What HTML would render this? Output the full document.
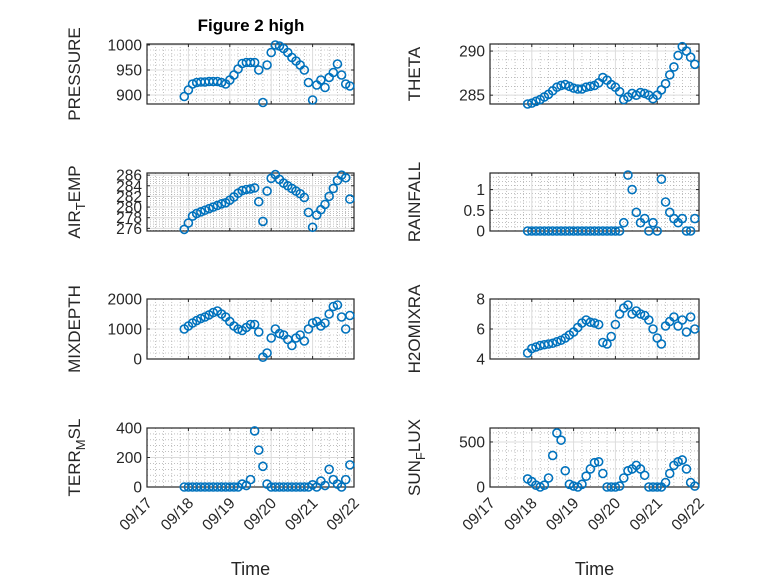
<!DOCTYPE html>
<html><head><meta charset="utf-8"><style>
html,body{margin:0;padding:0;background:#fff;}
svg{display:block;font-family:"Liberation Sans",sans-serif;}
</style></head><body>
<svg id="fig" width="778" height="583" viewBox="0 0 778 583">
<rect width="778" height="583" fill="#fff"/>
<text x="251" y="31" text-anchor="middle" font-size="17" font-weight="bold" fill="#000">Figure 2 high</text>
</svg>
<script>
const times=[0.9,1.0,1.1,1.2,1.3,1.4,1.5,1.6,1.7,1.8,1.9,2.0,2.1,2.2,2.3,2.4,2.5,2.6,2.7,2.8,2.9,3.0,3.1,3.2,3.3,3.4,3.5,3.6,3.7,3.8,3.9,4.0,4.1,4.2,4.3,4.4,4.5,4.6,4.7,4.8,4.9];
const xTickLabels=["09/17","09/18","09/19","09/20","09/21","09/22"];
const pressure=[897,910,922,925,926,926,927,927,927,925,922,930,940,952,963,965,965,965,950,885,960,985,1000,998,993,985,975,968,960,950,925,890,920,930,915,935,945,962,940,922,918];
const airTemp=[275.8,277,278.3,278.8,279.1,279.4,279.7,280,280.3,280.6,280.8,281.3,281.9,282.6,283.1,283.3,283.4,283.6,281,277.3,283,285.4,286.1,285.2,284.5,284,283.5,283,282.5,281.8,279,276.2,278.5,279.5,280.5,282,283.5,285,286,285.5,281.5];
const theta=[284,284.1,284.3,284.5,284.8,285.1,285.5,285.9,286.1,286.2,286,285.8,285.7,285.7,285.9,286,286.1,286.4,287,286.7,286.2,285.9,285.4,284.5,284.8,285.2,285,285.3,285.2,285,284.6,285,285.6,286.3,287.3,288.2,289.5,290.5,290,289.3,288.5];
const rainfall=[0,0,0,0,0,0,0,0,0,0,0,0,0,0,0,0,0,0,0,0,0,0,0,0.2,1.35,1.0,0.45,0.2,0.3,0,0.2,0,1.25,0.7,0.45,0.3,0.2,0.3,0,0,0.3];
const mixDepth=[1000,1100,1200,1280,1350,1400,1470,1550,1600,1500,1400,1250,1100,1000,950,1050,1150,1150,900,60,200,700,1000,850,800,650,450,700,800,600,1000,1200,1250,1100,1200,1500,1750,1800,1400,1000,1450];
const h2o=[4.4,4.7,4.8,4.9,4.95,5.0,5.05,5.15,5.25,5.4,5.6,5.8,6.1,6.4,6.6,6.45,6.4,6.3,5.1,5.0,5.5,6.3,7.0,7.4,7.6,7.0,7.2,7.0,6.9,6.6,6.0,5.4,5.0,6.2,6.5,6.8,6.2,6.6,5.8,6.8,6.0];
const terrMsl=[0,0,0,0,0,0,0,0,0,0,0,0,0,0,20,10,50,380,250,140,20,0,0,0,0,0,0,0,0,0,0,15,0,40,10,120,50,20,0,50,150];
const sunFlux=[90,60,20,0,20,100,350,600,520,180,30,10,0,30,120,200,270,280,150,0,0,0,10,100,180,200,240,200,130,0,0,0,0,50,150,240,280,300,200,50,10];

const panels=[
 {name:"pressure",label:"PRESSURE",sub:null,x0:147,x1:354,y0:44,y1:104,ymin:882,ymax:1002,ticks:[900,950,1000],vals:pressure},
 {name:"theta",label:"THETA",sub:null,x0:490,x1:699,y0:44,y1:104,ymin:284,ymax:290.8,ticks:[285,290],vals:theta},
 {name:"air-temp",label:"AIR",sub:["T","EMP"],x0:147,x1:354,y0:173,y1:231,ymin:275.5,ymax:286.4,ticks:[276,278,280,282,284,286],vals:airTemp},
 {name:"rainfall",label:"RAINFALL",sub:null,x0:490,x1:699,y0:173,y1:231,ymin:0,ymax:1.4,ticks:[0,0.5,1],vals:rainfall},
 {name:"mixdepth",label:"MIXDEPTH",sub:null,x0:147,x1:354,y0:299,y1:359,ymin:0,ymax:2000,ticks:[0,1000,2000],vals:mixDepth},
 {name:"h2omixra",label:"H2OMIXRA",sub:null,x0:490,x1:699,y0:299,y1:359,ymin:4,ymax:8,ticks:[4,6,8],vals:h2o},
 {name:"terr-msl",label:"TERR",sub:["M","SL"],x0:147,x1:354,y0:428,y1:487,ymin:0,ymax:400,ticks:[0,200,400],vals:terrMsl},
 {name:"sun-flux",label:"SUN",sub:["F","LUX"],x0:490,x1:699,y0:428,y1:487,ymin:0,ymax:655,ticks:[0,500],vals:sunFlux}
];
const NS="http://www.w3.org/2000/svg";
const svg=document.getElementById("fig");
function mk(tag,attrs,parent){const e=document.createElementNS(NS,tag);for(const k in attrs)e.setAttribute(k,attrs[k]);(parent||svg).appendChild(e);return e;}
const ylabX={147:80,490:420};
panels.forEach((p,pi)=>{
  const g=mk("g",{});
  
  
  const xs=d=>p.x0+(p.x1-p.x0)*d/5;
  const ys=v=>p.y1-(p.y1-p.y0)*(v-p.ymin)/(p.ymax-p.ymin);
  mk("rect",{x:p.x0,y:p.y0,width:p.x1-p.x0,height:p.y1-p.y0,fill:"#fff"},g);
  for(let d=0;d<5;d++)for(let k=1;k<5;k++){const x=xs(d+k/5);mk("line",{x1:x,x2:x,y1:p.y0,y2:p.y1,stroke:"#999","stroke-width":0.6,"stroke-dasharray":"1 2"},g);}
  const step=p.ticks.length>1?p.ticks[1]-p.ticks[0]:p.ymax;
  for(let v=p.ticks[0]-step;v<p.ymax;v+=step/5){if(v<=p.ymin||v>=p.ymax)continue;const y=ys(v);mk("line",{x1:p.x0,x2:p.x1,y1:y,y2:y,stroke:"#999","stroke-width":0.6,"stroke-dasharray":"1 2"},g);}
  for(let d=1;d<5;d++){const x=xs(d);mk("line",{x1:x,x2:x,y1:p.y0,y2:p.y1,stroke:"#dcdcdc","stroke-width":1},g);}
  p.ticks.forEach(v=>{const y=ys(v);mk("line",{x1:p.x0,x2:p.x1,y1:y,y2:y,stroke:"#dcdcdc","stroke-width":1},g);});
  for(let d=0;d<=5;d++){const x=xs(d);mk("line",{x1:x,x2:x,y1:p.y1,y2:p.y1-3,stroke:"#262626"},g);mk("line",{x1:x,x2:x,y1:p.y0,y2:p.y0+3,stroke:"#262626"},g);}
  p.ticks.forEach(v=>{const y=ys(v);mk("line",{x1:p.x0,x2:p.x0+3,y1:y,y2:y,stroke:"#262626"},g);mk("line",{x1:p.x1,x2:p.x1-3,y1:y,y2:y,stroke:"#262626"},g);
    const t=mk("text",{x:p.x0-5,y:y+5.5,"text-anchor":"end","font-size":15.5,fill:"#262626"},g);t.textContent=String(v);
    
    });
  mk("rect",{x:p.x0,y:p.y0,width:p.x1-p.x0,height:p.y1-p.y0,fill:"none",stroke:"#262626","stroke-width":1.2},g);
  const lx=ylabX[p.x0], ly=(p.y0+p.y1)/2;
  const yl=mk("text",{x:0,y:0,"text-anchor":"middle","font-size":17,fill:"#262626",transform:`translate(${lx},${ly}) rotate(-90)`},g);
  
  
  if(p.sub){const a=document.createElementNS(NS,"tspan");a.textContent=p.label;yl.appendChild(a);
    const b=document.createElementNS(NS,"tspan");b.setAttribute("dy","5");b.setAttribute("font-size","13");b.textContent=p.sub[0];yl.appendChild(b);
    const c=document.createElementNS(NS,"tspan");c.setAttribute("dy","-5");c.textContent=p.sub[1];yl.appendChild(c);}
  else yl.textContent=p.label;
  p.vals.forEach((v,i)=>{const c=mk("circle",{cx:xs(times[i]),cy:ys(v),r:4,fill:"none",stroke:"#0072BD","stroke-width":1.6},g);
    
    });
  if(pi>=6){
    xTickLabels.forEach((s,d)=>{const x=xs(d);const t=mk("text",{x:0,y:0,"text-anchor":"end","font-size":15.5,fill:"#262626",transform:`translate(${x+6},${p.y1+17}) rotate(-45)`},g);t.textContent=s;
      
      });
    const xt=mk("text",{x:(p.x0+p.x1)/2,y:575,"text-anchor":"middle","font-size":18,fill:"#262626"},g);xt.textContent="Time";
    
    
  }
});
</script>
</body></html>
